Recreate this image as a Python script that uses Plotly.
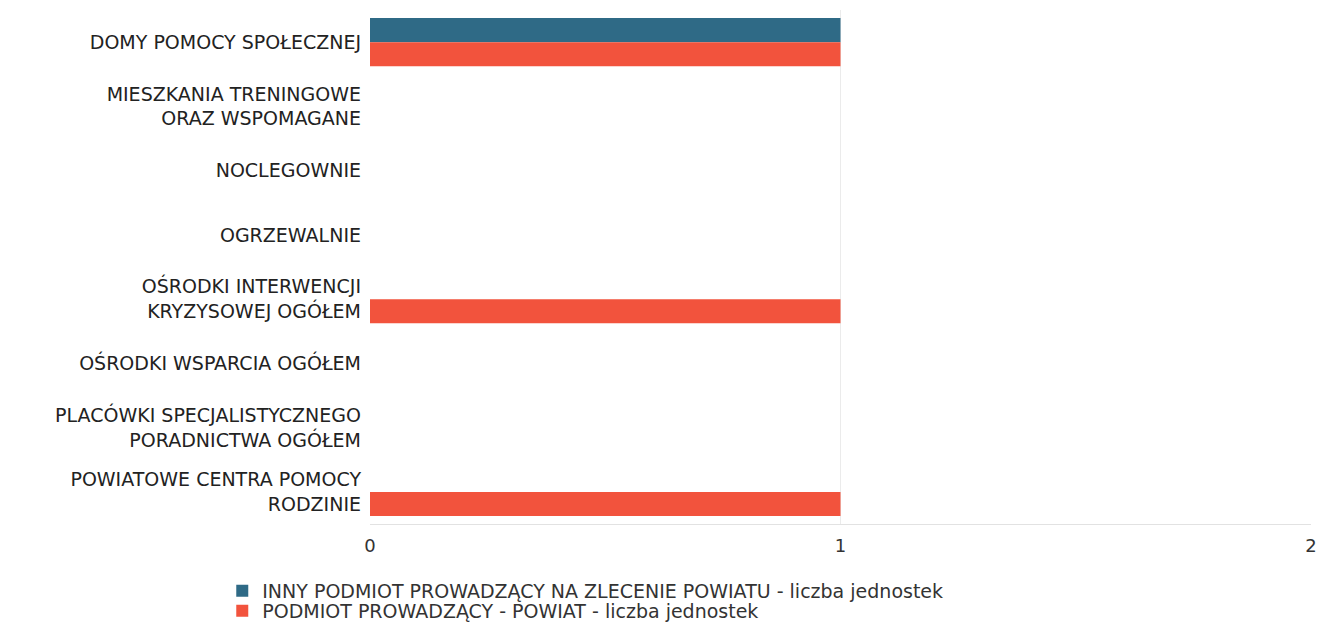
import plotly.graph_objects as go

# categories (top to bottom)
categories = [
    "DOMY POMOCY SPOŁECZNEJ",
    "MIESZKANIA TRENINGOWE<br>ORAZ WSPOMAGANE",
    "NOCLEGOWNIE",
    "OGRZEWALNIE",
    "OŚRODKI INTERWENCJI<br>KRYZYSOWEJ OGÓŁEM",
    "OŚRODKI WSPARCIA OGÓŁEM",
    "PLACÓWKI SPECJALISTYCZNEGO<br>PORADNICTWA OGÓŁEM",
    "POWIATOWE CENTRA POMOCY<br>RODZINIE",
]
inny_podmiot = [1, 0, 0, 0, 0, 0, 0, 0]
powiat = [1, 0, 0, 0, 1, 0, 0, 1]
x_ticks = [0, 1, 2]

fig = go.Figure()
fig.add_trace(go.Bar(
    y=categories, x=inny_podmiot, orientation="h",
    name="INNY PODMIOT PROWADZĄCY NA ZLECENIE POWIATU - liczba jednostek",
    marker=dict(color="#2f6a86", line=dict(width=0)),
    legend="legend",
))
fig.add_trace(go.Bar(
    y=categories, x=powiat, orientation="h",
    name="PODMIOT PROWADZĄCY - POWIAT - liczba jednostek",
    marker=dict(color="#f2533d", line=dict(width=0)),
    legend="legend2",
))

legend_style = dict(
    orientation="v", x=-0.157, xanchor="left", yanchor="top",
    font=dict(size=19, color="#333"), itemwidth=30, bgcolor="rgba(0,0,0,0)",
)

# page body has an 8px margin, so the figure is sized to fit the window
fig.update_layout(
    width=1319, height=619,
    margin=dict(l=362, r=16, t=2, b=103, autoexpand=False),
    paper_bgcolor="white", plot_bgcolor="white",
    barmode="group", bargap=0.25, bargroupgap=0,
    font=dict(family="DejaVu Sans", size=19, color="#222"),
    showlegend=True,
    legend=dict(y=-0.093, **legend_style),
    legend2=dict(y=-0.132, **legend_style),
    xaxis=dict(
        range=[0, 2], tickvals=x_ticks, showgrid=True, gridcolor="#ebebeb",
        zeroline=False, showline=True, linecolor="#e2e2e2",
        tickfont=dict(size=18, color="#333"), automargin=False,
        ticklabelstandoff=5,
    ),
    yaxis=dict(
        autorange="reversed", showgrid=False, ticks="", ticklabelstandoff=8,
        tickfont=dict(size=19, color="#222"), automargin=False,
    ),
)

fig.write_html("out.html")
